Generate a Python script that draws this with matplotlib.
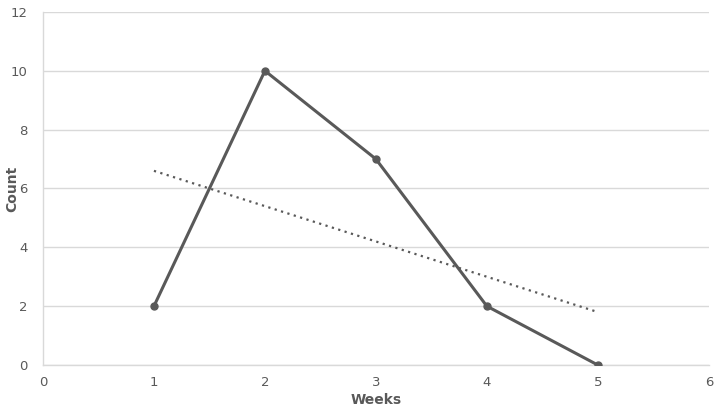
import matplotlib.pyplot as plt
import numpy as np

weeks = [1, 2, 3, 4, 5]
counts = [2, 10, 7, 2, 0]

# linear trendline like the spreadsheet one
slope, icpt = np.polyfit(weeks, counts, 1)
trend_x = np.array([weeks[0], weeks[-1]])
trend_y = slope * trend_x + icpt

fig = plt.figure(figsize=(7.16, 4.12), dpi=100)
ax = fig.add_axes([0.060, 0.114, 0.930, 0.857])

line_col = '#595959'
grid_col = '#d9d9d9'

ax.plot(weeks, counts, color=line_col, lw=2.2, marker='o', ms=5, zorder=3)
ax.plot(trend_x, trend_y, color=line_col, lw=1.6, ls=(0, (1, 2)), zorder=2)

ax.set_xlim(0, 6)
ax.set_ylim(0, 12)
ax.set_xticks(range(0, 7))
ax.set_yticks(range(0, 13, 2))
ax.yaxis.grid(True, color=grid_col, lw=1)
ax.set_axisbelow(True)

for s in ['top', 'right']:
    ax.spines[s].set_visible(False)
for s in ['left', 'bottom']:
    ax.spines[s].set_color(grid_col)
    ax.spines[s].set_linewidth(1)

ax.tick_params(length=0, colors='#595959', labelsize=9.5)
ax.tick_params(axis='x', pad=8)
ax.tick_params(axis='y', pad=11)

ax.set_xlabel('Weeks', fontsize=10, fontweight='bold', color='#595959')
ax.set_ylabel('Count', fontsize=10, fontweight='bold', color='#595959')
ax.xaxis.set_label_coords(0.5, -0.078)
ax.yaxis.set_label_coords(-0.036, 0.5)

fig.savefig('out.png', dpi=100)
